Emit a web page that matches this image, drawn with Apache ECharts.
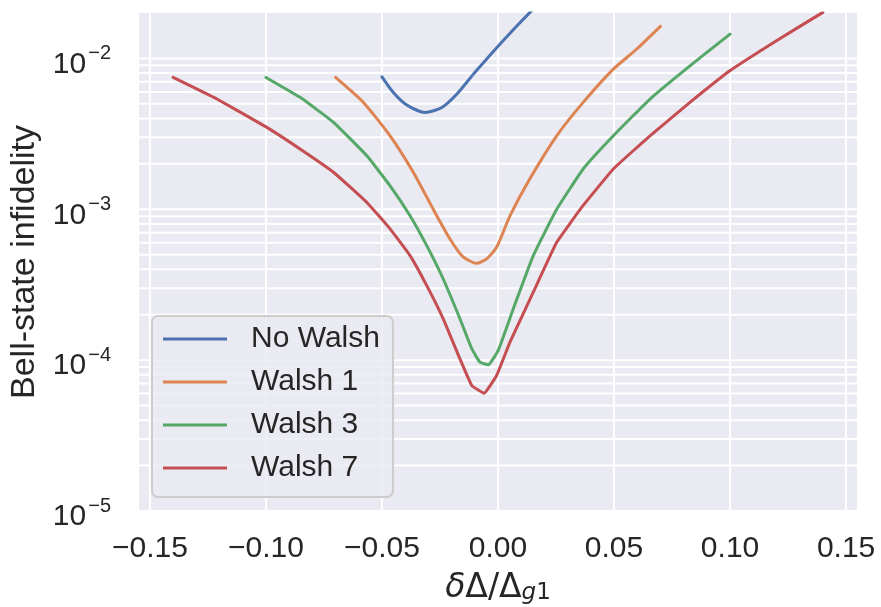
<!DOCTYPE html>
<html><head><meta charset="utf-8">
<script src="https://cdn.jsdelivr.net/npm/echarts@6/dist/echarts.min.js"></script>
<style>html,body{margin:0;padding:0;background:#fff}#c{width:881px;height:607px}</style>
</head><body><div id="c"></div>
<script>
// ---- data ----
const seriesNames = ['No Walsh', 'Walsh 1', 'Walsh 3', 'Walsh 7'];
const seriesColors = ['#4C72B0', '#DD8452', '#55A868', '#C44E52'];

const xNoWalsh = [-0.05, -0.0451, -0.0393, -0.0314, -0.0242, -0.0177, -0.0106, -0.0049, 0.0009, 0.0081, 0.0138, 0.02];
const yNoWalsh = [7.55e-3, 5.95e-3, 4.91e-3, 4.38e-3, 4.73e-3, 5.81e-3, 7.87e-3, 9.9e-3, 1.245e-2, 1.64e-2, 2.02e-2, 2.5e-2];

const xWalsh1 = [-0.07, -0.058, -0.0465, -0.0365, -0.0279, -0.0207, -0.0149, -0.0092, -0.0049, -0.0006, 0.0052, 0.0138, 0.0253, 0.0367, 0.0497, 0.0597, 0.07];
const yWalsh1 = [7.48e-3, 5.11e-3, 3.07e-3, 1.76e-3, 1.0e-3, 6.36e-4, 4.81e-4, 4.38e-4, 4.69e-4, 5.6e-4, 9.07e-4, 1.6e-3, 3.07e-3, 5.11e-3, 8.49e-3, 1.15e-2, 1.63e-2];

const xWalsh3 = [-0.1, -0.0853, -0.0709, -0.0565, -0.0465, -0.0379, -0.0307, -0.0236, -0.0164, -0.0113, -0.0078, -0.0042, 0.0001, 0.0066, 0.0152, 0.0253, 0.0367, 0.0497, 0.0655, 0.0827, 0.1];
const yWalsh3 = [7.48e-3, 5.52e-3, 3.77e-3, 2.26e-3, 1.43e-3, 9.07e-4, 5.74e-4, 3.45e-4, 1.88e-4, 1.19e-4, 9.7e-5, 9.31e-5, 1.16e-4, 2.19e-4, 4.93e-4, 1.0e-3, 1.85e-3, 3.07e-3, 5.38e-3, 8.93e-3, 1.45e-2];

const xWalsh7 = [-0.14, -0.1211, -0.0996, -0.0853, -0.0709, -0.0565, -0.0465, -0.0379, -0.0307, -0.0236, -0.0164, -0.0113, -0.006, -0.0006, 0.0052, 0.0152, 0.0253, 0.0367, 0.0497, 0.0655, 0.0827, 0.0999, 0.12, 0.14];
const yWalsh7 = [7.48e-3, 5.38e-3, 3.49e-3, 2.51e-3, 1.76e-3, 1.11e-3, 7.41e-4, 4.93e-4, 3.12e-4, 1.88e-4, 1.02e-4, 6.79e-5, 6.04e-5, 7.91e-5, 1.32e-4, 2.82e-4, 6.04e-4, 1.06e-3, 1.85e-3, 3.07e-3, 5.11e-3, 8.28e-3, 1.31e-2, 2.02e-2];

const xTickValues = [-0.15, -0.10, -0.05, 0.00, 0.05, 0.10, 0.15];
const yMajorValues = [1e-5, 1e-4, 1e-3, 1e-2];
const yMinorMultipliers = [2, 3, 4, 5, 6, 7, 8, 9];

// ---- build ----
const X_MIN = -0.1547, X_MAX = 0.1547, Y_MIN = 1e-5, Y_MAX = 0.02;
const xs = [xNoWalsh, xWalsh1, xWalsh3, xWalsh7];
const ys = [yNoWalsh, yWalsh1, yWalsh3, yWalsh7];
const smoothness = [0.25, 0.2, 0.12, 0.1];
const FONT = 'Liberation Sans, Arial, sans-serif';
const TXT = '#262626';

const hValues = [];
yMajorValues.forEach(v => {
  hValues.push(v);
  if (v < 1e-2) yMinorMultipliers.forEach(m => hValues.push(v * m));
});

const gridStyle = { color: '#ffffff', width: 2 };
const series = [];
hValues.forEach((v, i) => series.push({
  name: '_h' + i, type: 'line', symbol: 'none', silent: true, z: 1, clip: true,
  lineStyle: gridStyle, emphasis: { disabled: true }, tooltip: { show: false },
  data: [[X_MIN, v], [X_MAX, v]]
}));
xTickValues.forEach((v, i) => series.push({
  name: '_v' + i, type: 'line', symbol: 'none', silent: true, z: 1, clip: true,
  lineStyle: gridStyle, emphasis: { disabled: true }, tooltip: { show: false },
  data: [[v, Y_MIN], [v, Y_MAX]]
}));
seriesNames.forEach((n, i) => {
  series.push({
    name: n, type: 'line', symbol: 'none', showSymbol: false, z: 3, clip: true,
    smooth: smoothness[i],
    lineStyle: { color: seriesColors[i], width: 3, cap: 'round', join: 'round' },
    itemStyle: { color: seriesColors[i] },
    data: xs[i].map((x, k) => [x, ys[i][k]])
  });
});

const chart = echarts.init(document.getElementById('c'), null, { renderer: 'canvas' });
chart.setOption({
  animation: false,
  backgroundColor: '#ffffff',
  grid: {
    left: 139, right: 24, top: 13, bottom: 96, show: true, backgroundColor: '#EAEAF2', borderWidth: 0,
    containLabel: false, outerBoundsMode: 'none'
  },
  legend: {
    data: seriesNames, orient: 'vertical', left: 152, top: 316,
    icon: 'rect', itemWidth: 64, itemHeight: 3, itemGap: 9,
    padding: [6, 13, 12, 11],
    backgroundColor: 'rgba(234,234,242,0.8)', borderColor: '#cccccc', borderWidth: 2, borderRadius: 6,
    textStyle: { fontFamily: FONT, fontSize: 30, color: TXT, lineHeight: 34, padding: [0, 0, 0, 19] },
    selectedMode: false
  },
  xAxis: {
    type: 'value', min: X_MIN, max: X_MAX,
    axisLine: { show: false }, axisTick: { show: false }, splitLine: { show: false },
    axisLabel: {
      customValues: xTickValues, margin: 23,
      fontFamily: FONT, fontSize: 30, lineHeight: 30, color: TXT,
      formatter: v => (v < -1e-9 ? '\u2212' : '') + Math.abs(v).toFixed(2)
    },
    name: '{i|δ}{n|Δ/Δ}{si|g}{s|1}', nameLocation: 'middle', nameGap: 61,
    nameTextStyle: {
      rich: {
        i: { fontFamily: 'DejaVu Sans', fontStyle: 'italic', fontSize: 33, lineHeight: 33, padding: [0, 0, 8, 0], verticalAlign: 'top', color: TXT },
        n: { fontFamily: 'DejaVu Sans', fontSize: 33, lineHeight: 33, padding: [0, 0, 8, 0], verticalAlign: 'top', color: TXT },
        si: { fontFamily: 'DejaVu Sans', fontStyle: 'italic', fontSize: 23, lineHeight: 23, verticalAlign: 'bottom', color: TXT },
        s: { fontFamily: 'DejaVu Sans', fontSize: 23, lineHeight: 23, verticalAlign: 'bottom', color: TXT }
      }
    }
  },
  yAxis: {
    type: 'log', logBase: 10, min: Y_MIN, max: Y_MAX,
    axisLine: { show: false }, axisTick: { show: false }, splitLine: { show: false }, minorSplitLine: { show: false },
    axisLabel: {
      margin: 28, padding: [6, 0, 0, 0],
      formatter: v => {
        const e = Math.log10(v);
        if (Math.abs(e - Math.round(e)) > 1e-6) return '';
        return '{b|10}{s|\u2212' + Math.abs(Math.round(e)) + '}';
      },
      rich: {
        b: { fontFamily: FONT, fontSize: 30, lineHeight: 36, verticalAlign: 'bottom', color: TXT },
        s: { fontFamily: FONT, fontSize: 20, lineHeight: 20, verticalAlign: 'top', color: TXT, padding: [0, 0, 0, 2] }
      }
    },
    name: 'Bell-state infidelity', nameLocation: 'middle', nameGap: 80,
    nameTextStyle: { fontFamily: FONT, fontSize: 34, lineHeight: 34, color: TXT }
  },
  series: series
});
</script></body></html>
